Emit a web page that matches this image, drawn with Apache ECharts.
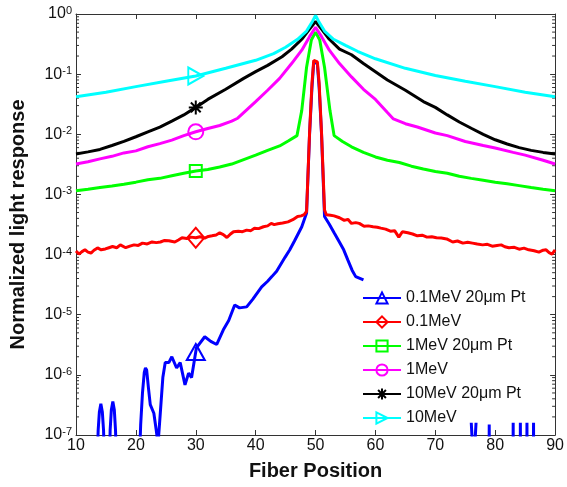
<!DOCTYPE html>
<html>
<head>
<meta charset="utf-8">
<script src="https://cdn.jsdelivr.net/npm/echarts@6/dist/echarts.min.js"></script>
<style>
  html, body { margin: 0; padding: 0; background: #fff; }
  #chart { width: 567px; height: 487px; }
</style>
</head>
<body>
<div id="chart"></div>
<script>
// legend names, in drawing order
var names = ['0.1MeV 20\u03bcm Pt', '0.1MeV', '1MeV 20\u03bcm Pt', '1MeV', '10MeV 20\u03bcm Pt', '10MeV'];
var colors = ['#0000ff', '#ff0000', '#00ff00', '#ff00ff', '#000000', '#00ffff'];

// [fiber position, normalized response]; null = gap
var blue = [[13.4,1e-8],[13.7,1.2e-7],[13.9,2.4e-7],[14.15,3.3e-7],[14.4,2.4e-7],[14.6,1.2e-7],[14.9,1e-8],
  [15.5,1e-8],[15.7,1.2e-7],[15.9,2.6e-7],[16.15,3.6e-7],[16.4,2.6e-7],[16.6,1.2e-7],[16.9,1e-8],[17.2,null],
  [20.4,1e-8],[20.8,1.5e-7],[21.1,5e-7],[21.4,1.1e-6],[21.6,1.3e-6],[21.8,1.2e-6],[22.1,6e-7],[22.4,3.2e-7],
  [23,2.3e-7],[23.4,1.2e-7],[23.7,7e-8],[24.1,2.5e-7],[24.5,9e-7],[24.9,1.6e-6],[25.5,1.6e-6],
  [26,2e-6],[26.8,1.3e-6],[27.4,1.6e-6],[28.2,6.8e-7],[28.8,1.07e-6],[29.3,9e-7],[30.1,2.8e-6],[31.5,4.3e-6],
  [32.5,3.6e-6],[33.5,3.2e-6],[34.6,5.6e-6],[35.5,8e-6],[36.5,1.45e-5],[37.3,1.3e-5],[38.5,1.35e-5],
  [39.5,1.8e-5],[41,2.9e-5],[42,3.6e-5],[42.7,4.3e-5],[43.5,5.3e-5],[44.9,9e-5],[45.7,1.2e-4],[46.5,1.7e-4],
  [47.7,2.9e-4],[48.5,4.9e-4],[49,1e-2],[49.4,6e-2],[49.7,0.16],[50,0.17],[50.3,0.15],[50.6,6e-2],[51,1e-2],
  [51.5,4.3e-4],[52.3,3.2e-4],[53.1,2.3e-4],[54,1.6e-4],[54.7,1.2e-4],[55.4,8.1e-5],[56.1,5.5e-5],
  [56.7,4.3e-5],[58,3.8e-5],[58.1,null],
  [75.8,null],[76,1.6e-7],[76.4,3e-8],[76.8,1.6e-7],[77,null],
  [78.9,1e-10],[79,1.5e-7],[79.1,1e-10],[79.3,null],
  [82.9,1e-10],[83,1.6e-7],[83.1,1e-10],[83.3,null],
  [84.1,1e-10],[84.2,1.6e-7],[84.3,1e-10],[84.5,null],
  [85.2,1e-10],[85.3,1.6e-7],[85.4,1e-10],[85.6,null],
  [86.3,1e-10],[86.4,1.6e-7],[86.5,1e-10]];

var red = [[10,1.15e-4],[10.5,1.02e-4],[11,1.12e-4],[11.5,1.2e-4],[12,1.1e-4],[12.5,1.06e-4],[13,1.18e-4],
  [13.6,1.29e-4],[14.2,1.2e-4],[14.9,1.24e-4],[15.5,1.3e-4],[16.1,1.36e-4],[16.8,1.3e-4],[17.4,1.45e-4],
  [18.3,1.3e-4],[19,1.38e-4],[19.7,1.45e-4],[20.4,1.42e-4],[21.1,1.55e-4],[21.9,1.5e-4],[22.7,1.62e-4],
  [23.4,1.58e-4],[24.1,1.62e-4],[24.8,1.72e-4],[25.5,1.7e-4],[26.5,1.62e-4],[27.1,1.75e-4],[27.7,1.9e-4],
  [28.5,1.85e-4],[29.2,1.95e-4],[30,1.9e-4],[30.7,1.98e-4],[31.5,1.88e-4],[32.1,2e-4],[32.7,2.05e-4],
  [33.4,2.12e-4],[34,2.3e-4],[34.6,2.15e-4],[35.2,1.92e-4],[35.8,2.2e-4],[36.3,2.4e-4],[37.1,2.45e-4],
  [37.8,2.4e-4],[38.5,2.55e-4],[39.2,2.5e-4],[39.8,2.75e-4],[40.5,2.7e-4],[41.3,2.9e-4],[42,3e-4],
  [42.6,3.3e-4],[43.1,3.15e-4],[43.7,3.25e-4],[44.5,3.35e-4],[45.4,3.5e-4],[46.2,3.8e-4],[47,4.3e-4],
  [47.6,4.4e-4],[48.1,4.6e-4],[48.5,5.2e-4],[49,1.05e-2],[49.4,7e-2],[49.7,0.17],[50,0.175],[50.3,0.16],
  [50.6,7e-2],[51,1.05e-2],[51.5,5.5e-4],[51.8,4.6e-4],[52.5,4.5e-4],[53.1,4.4e-4],[54,4.1e-4],[54.8,3.7e-4],
  [55.4,3.85e-4],[56,3.3e-4],[56.7,3.4e-4],[57.3,3.3e-4],[58.1,2.95e-4],[58.8,3e-4],[59.6,2.9e-4],
  [60.3,2.85e-4],[60.9,2.75e-4],[61.7,2.65e-4],[62.5,2.45e-4],[63.2,2.5e-4],[63.9,1.95e-4],[64.5,2.4e-4],
  [65.4,2.3e-4],[66.2,2.2e-4],[67,2.05e-4],[67.8,2.1e-4],[68.6,1.95e-4],[69.4,1.98e-4],[70.2,1.9e-4],
  [71,1.88e-4],[71.9,1.82e-4],[72.9,1.62e-4],[73.7,1.68e-4],[74.6,1.55e-4],[75.4,1.6e-4],[76.2,1.55e-4],
  [77,1.5e-4],[77.9,1.45e-4],[78.7,1.48e-4],[79.5,1.38e-4],[80.3,1.42e-4],[81,1.45e-4],[81.6,1.35e-4],
  [82.3,1.3e-4],[83.2,1.32e-4],[84,1.23e-4],[84.8,1.28e-4],[85.6,1.2e-4],[86.5,1.16e-4],[87.3,1.1e-4],
  [88,1.18e-4],[88.5,1.2e-4],[89,1.08e-4],[89.5,1.02e-4],[90,1.2e-4]];

var green = [[10,1.15e-3],[12,1.22e-3],[14,1.3e-3],[16,1.38e-3],[18,1.48e-3],[20,1.6e-3],[22,1.75e-3],
  [24,1.85e-3],[26,2.05e-3],[28,2.25e-3],[30,2.45e-3],[32,2.6e-3],[34,2.85e-3],[36,3.2e-3],[38,3.8e-3],
  [40,4.5e-3],[42,5.4e-3],[44,6.4e-3],[45.5,7.8e-3],[46.9,9.5e-3],[47.7,2.5e-2],[48.5,0.13],[49.3,0.37],
  [50,0.5],[50.7,0.37],[51.5,0.13],[52.4,2.5e-2],[53.1,9.5e-3],[54.5,7.6e-3],[56,6.2e-3],[58,5e-3],
  [60,4.2e-3],[62,3.7e-3],[64,3.4e-3],[66,2.95e-3],[68,2.65e-3],[70,2.4e-3],[72,2.25e-3],[74,2e-3],
  [76,1.85e-3],[78,1.72e-3],[80,1.6e-3],[82,1.5e-3],[84,1.4e-3],[86,1.3e-3],[88,1.22e-3],[90,1.15e-3]];

var magenta = [[10,3.2e-3],[12,3.5e-3],[14,3.9e-3],[16,4.3e-3],[18,4.9e-3],[20,5.3e-3],[22,6.2e-3],
  [24,7e-3],[26,8e-3],[28,9.5e-3],[30,1.1e-2],[32,1.25e-2],[34,1.4e-2],[36,1.65e-2],[37,1.85e-2],
  [40,3.5e-2],[42,5.4e-2],[44,8.5e-2],[46,0.15],[47.7,0.25],[49,0.42],[50,0.6],[51,0.42],[52.3,0.25],
  [54,0.15],[56,9e-2],[58,5.6e-2],[60,3.8e-2],[62,2.3e-2],[63,1.8e-2],[65,1.5e-2],[67,1.32e-2],
  [70,1.05e-2],[72,9.5e-3],[75,7.6e-3],[78,6.5e-3],[80,5.9e-3],[83,5e-3],[85,4.5e-3],[88,3.7e-3],[90,3.2e-3]];

var black = [[10,4.7e-3],[12,5.1e-3],[14,5.6e-3],[16,6.5e-3],[18,7.6e-3],[20,9.1e-3],[22,1.1e-2],
  [24,1.32e-2],[26,1.66e-2],[28,2.1e-2],[30,2.8e-2],[32,3.8e-2],[35,5.6e-2],[38,8.5e-2],[40,0.11],
  [42,0.14],[44.4,0.195],[46,0.26],[47.7,0.38],[49,0.56],[50,0.75],[51,0.56],[52.3,0.38],[54,0.26],
  [56,0.21],[58,0.15],[60,0.11],[62,8e-2],[65,5.4e-2],[68,3.5e-2],[70,2.8e-2],[72,2.1e-2],[74,1.6e-2],
  [76,1.26e-2],[78,1e-2],[80,8.1e-3],[82,6.9e-3],[84,6e-3],[86,5.4e-3],[88,5e-3],[90,4.7e-3]];

var cyan = [[10,4.2e-2],[15,5e-2],[20,6.2e-2],[25,7.6e-2],[30,9.3e-2],[35,0.125],[40,0.17],[43,0.22],
  [45,0.28],[47,0.38],[48.5,0.52],[49.5,0.76],[50,0.95],[50.5,0.76],[51.5,0.52],[53,0.38],[55,0.3],
  [57,0.24],[60,0.18],[65,0.125],[70,9.5e-2],[75,7.6e-2],[80,6.2e-2],[85,5e-2],[90,4.2e-2]];

var seriesData = [blue, red, green, magenta, black, cyan];

// one marker per curve, at fiber position 30
var markerX = 30;
var markerY = [2.4e-6, 1.9e-4, 2.45e-3, 1.1e-2, 2.8e-2, 9.3e-2];
var markerSymbols = ['triangle', 'diamond', 'rect', 'circle',
  'path://M5,0L5,10M0,5L10,5M1.5,1.5L8.5,8.5M1.5,8.5L8.5,1.5',
  'path://M0,0L10,5L0,10Z'];
var markerSizes = [[18, 16], [17, 20], [12, 12], [15, 15], [14, 14], [15, 17]];

// axis ticks
var xTicks = [10, 20, 30, 40, 50, 60, 70, 80, 90];
var decades = [-7, -6, -5, -4, -3, -2, -1];
var mantissas = [2, 3, 4, 5, 6, 7, 8, 9];

var minorTicks = [];
decades.forEach(function (e) {
  mantissas.forEach(function (m) { minorTicks.push([10, m * Math.pow(10, e)]); });
});

var font = 'Liberation Sans, Arial, Helvetica, sans-serif';
var series = [];
seriesData.forEach(function (d, i) {
  series.push({
    name: names[i],
    type: 'line',
    data: d,
    showSymbol: false,
    symbol: markerSymbols[i],
    symbolSize: markerSizes[i],
    clip: true,
    lineStyle: { color: colors[i], width: 3 },
    itemStyle: { color: 'rgba(0,0,0,0)', borderColor: colors[i], borderWidth: 2 },
    emphasis: { disabled: true },
    markPoint: {
      silent: true,
      symbol: markerSymbols[i],
      symbolSize: markerSizes[i],
      label: { show: false },
      itemStyle: { color: 'rgba(0,0,0,0)', borderColor: colors[i], borderWidth: 2 },
      data: [{ coord: [markerX, markerY[i]] }]
    },
    z: 3 + i
  });
});

series.push({
  type: 'custom',
  silent: true,
  clip: false,
  data: minorTicks,
  renderItem: function (params, api) {
    var v = api.value(1);
    var pL = api.coord([10, v]);
    var pR = api.coord([90, v]);
    return {
      type: 'group',
      children: [
        { type: 'line', shape: { x1: pL[0], y1: pL[1], x2: pL[0] + 3, y2: pL[1] }, style: { stroke: '#333', lineWidth: 1 } },
        { type: 'line', shape: { x1: pR[0], y1: pR[1], x2: pR[0] - 3, y2: pR[1] }, style: { stroke: '#333', lineWidth: 1 } }
      ]
    };
  },
  z: 2
});

var axisLine = { show: true, lineStyle: { color: '#333', width: 1 } };
var option = {
  animation: false,
  backgroundColor: '#fff',
  grid: { left: 73, right: 11, top: 14, bottom: 52 },
  legend: {
    data: names,
    orient: 'vertical',
    left: 362,
    top: 290,
    padding: 0,
    itemGap: 8,
    itemWidth: 38,
    itemHeight: 14,
    selectedMode: false,
    textStyle: { fontFamily: font, fontSize: 16, color: '#111' }
  },
  xAxis: [{
    type: 'value', min: 10, max: 90, interval: 10,
    name: 'Fiber Position', nameLocation: 'middle', nameGap: 26,
    nameTextStyle: { fontFamily: font, fontSize: 20, fontWeight: 'bold', color: '#111' },
    axisLine: axisLine,
    axisTick: { show: true, inside: true, length: 5, lineStyle: { color: '#333' } },
    axisLabel: { margin: 3, fontFamily: font, fontSize: 16, color: '#111' },
    splitLine: { show: false }
  }, {
    type: 'value', min: 10, max: 90, interval: 10, position: 'top',
    axisLine: axisLine,
    axisTick: { show: true, inside: true, length: 5, lineStyle: { color: '#333' } },
    axisLabel: { show: false },
    splitLine: { show: false }
  }],
  yAxis: [{
    type: 'log', logBase: 10, min: 1e-7, max: 1, splitNumber: 7,
    name: 'Normalized light response', nameLocation: 'middle', nameGap: 48,
    nameTextStyle: { fontFamily: font, fontSize: 20, fontWeight: 'bold', color: '#111' },
    axisLine: axisLine,
    axisTick: { show: true, inside: true, length: 5, lineStyle: { color: '#333' } },
    axisLabel: {
      margin: 4,
      formatter: function (v) {
        var e = Math.round(Math.log(v) / Math.LN10);
        return '{b|10}{s|' + e + '}';
      },
      rich: {
        b: { fontFamily: font, fontSize: 16, color: '#111' },
        s: { fontFamily: font, fontSize: 11, color: '#111', verticalAlign: 'top', padding: [0, 0, 6, 0] }
      }
    },
    splitLine: { show: false }
  }, {
    type: 'log', logBase: 10, min: 1e-7, max: 1, splitNumber: 7, position: 'right',
    axisLine: axisLine,
    axisTick: { show: true, inside: true, length: 5, lineStyle: { color: '#333' } },
    axisLabel: { show: false },
    splitLine: { show: false }
  }],
  series: series
};

var chart = echarts.init(document.getElementById('chart'), null, { renderer: 'canvas' });
chart.setOption(option);
</script>
</body>
</html>
